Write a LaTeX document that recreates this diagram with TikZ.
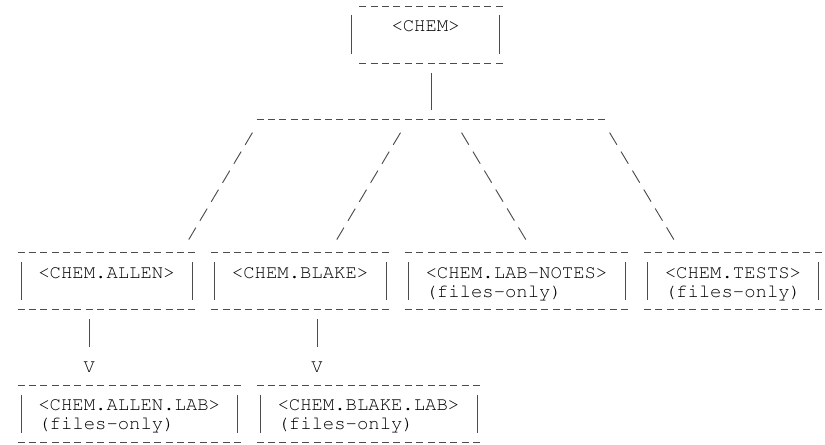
\documentclass[tikz,border=0pt]{standalone}
\usepackage[T1]{fontenc}
\usepackage{courier}
\usepackage{tikz}
\usetikzlibrary{calc}

\newlength\cw \setlength\cw{8.5425pt} % one character column
\newlength\rw \setlength\rw{14.22pt}  % one text row

\tikzset{%
    % ascii drawing, one unit = one character cell
    hline/.style = {draw=black!70, line width=0.7pt,
    dash pattern=on 5.25pt off 3.2925pt,
    shorten <=-2.625pt, shorten >=-2.625pt},
    vline/.style = {draw=black!70, line width=0.7pt,
    shorten <=7.11pt, shorten >=7.11pt},
    slash/.style = {draw=black!70, line width=0.7pt,
    dash pattern=on 10.62pt off 5.97pt},
    asciiframe/.style = {append after command={
    (\tikzlastnode.north west) edge[hline,#1] (\tikzlastnode.north east)
    (\tikzlastnode.south west) edge[hline,#1] (\tikzlastnode.south east)
    (\tikzlastnode.north west) edge[vline] (\tikzlastnode.south west)
    (\tikzlastnode.north east) edge[vline] (\tikzlastnode.south east)}},
    asciiframe/.default = {}
}

\begin{document}
\begin{tikzpicture}[x=8.5425pt, y=-14.22pt]

	\tikzstyle{dir}=[anchor=north west, inner xsep=1.5\cw, inner ysep=0pt,
	text height=1.34\rw, text depth=1.66\rw, align=left,
	font=\ttfamily\fontsize{14.2pt}{14.22pt}\selectfont]
	\tikzstyle{vhead}=[inner sep=0pt, text height=0.84\rw, text depth=0.16\rw,
	font=\ttfamily\fontsize{14.2pt}{14.22pt}\selectfont]

	\useasboundingbox (-1.844,-0.316) rectangle (70.59,23.155);

	% directories
	\node[dir, asciiframe={shorten <=5.92pt}, text width=10\cw, align=center] (chem) at (29,0) {<CHEM>};
	\node[dir, asciiframe, text width=12\cw] (allen) at (0,13) {<CHEM.ALLEN>};
	\node[dir, asciiframe, text width=12\cw] (blake) at (17,13) {<CHEM.BLAKE>};
	\node[dir, asciiframe, text width=16\cw] (labnotes) at (34,13) {<CHEM.LAB-NOTES>\\(files-only)};
	\node[dir, asciiframe, text width=12\cw] (tests) at (55,13) {<CHEM.TESTS>\\(files-only)};
	\node[dir, asciiframe, text width=16\cw] (allenlab) at (0,20) {<CHEM.ALLEN.LAB>\\(files-only)};
	\node[dir, asciiframe, text width=16\cw] (blakelab) at (21,20) {<CHEM.BLAKE.LAB>\\(files-only)};

	\node[vhead] (vA) at (6,19) {V};
	\node[vhead] (vB) at (26,19) {V};

	\coordinate (busW) at (21,6);
	\coordinate (bus) at (36,6);
	\coordinate (busE) at (51,6);

	% connectors
	\draw[vline] (bus |- chem.south) -- (bus);
	\draw[hline] (busW) -- (busE);
	\draw[slash] ($(busW)+(-0.68,0.68)$) -- ($(allen.north east)+(-0.32,-0.68)$);
	\draw[slash] ($(bus)+(-2.68,0.68)$) -- ($(blake.north east)+(-4.32,-0.68)$);
	\draw[slash] ($(bus)+(2.68,0.68)$) -- ($(labnotes.north west)+(10.32,-0.68)$);
	\draw[slash] ($(busE)+(0.68,0.68)$) -- ($(tests.north west)+(2.32,-0.68)$);
	\draw[vline] (vA |- allen.south) -- (vA);
	\draw[vline] (vB |- blake.south) -- (vB);

\end{tikzpicture}
\end{document}
